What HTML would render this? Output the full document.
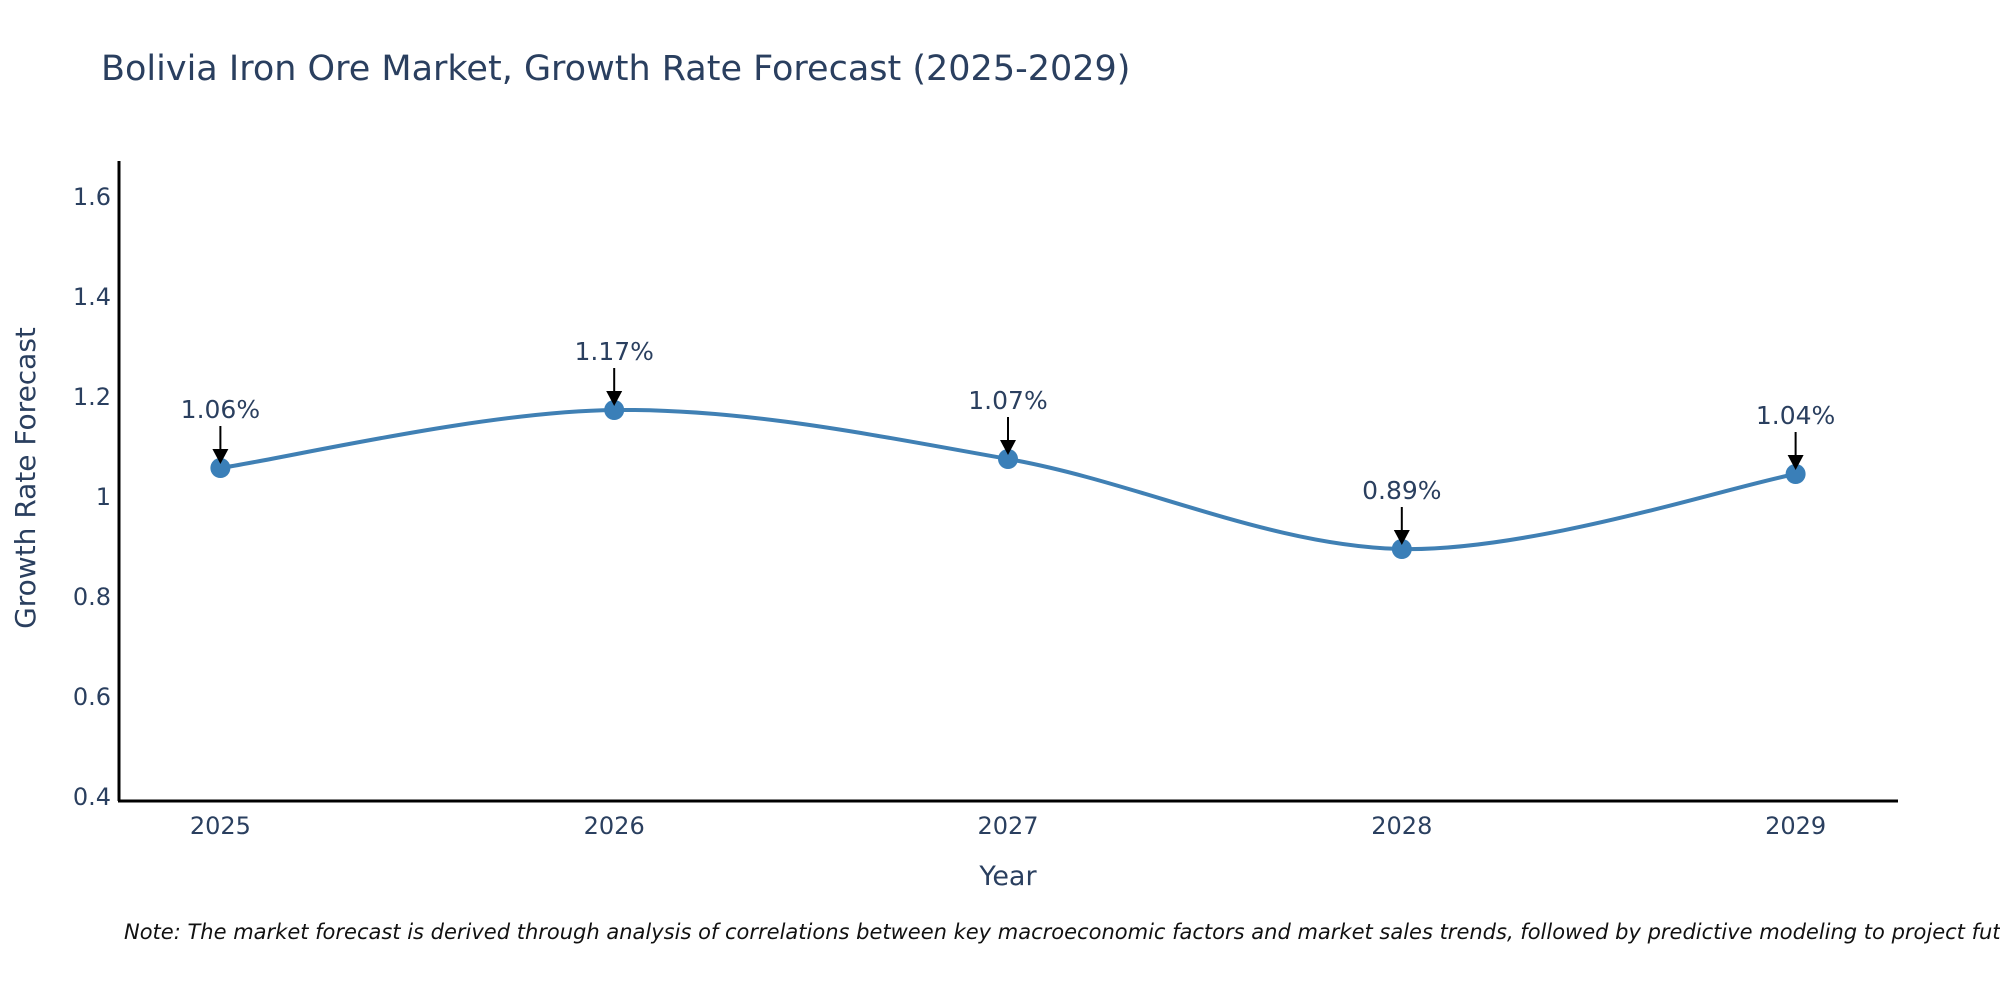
<!DOCTYPE html>
<html><head><meta charset="utf-8"><style>
html,body{margin:0;padding:0;background:#fff;}
svg{display:block;font-family:"DejaVu Sans","Liberation Sans",sans-serif;}
</style></head><body>
<svg id="chart" width="2000" height="1000">
<text x="101" y="80" font-size="35" fill="#2a3f5f">Bolivia Iron Ore Market, Growth Rate Forecast (2025-2029)</text>
<g id="yticks"></g>
<g id="xticks"></g>
<line x1="119" y1="161" x2="119" y2="801" stroke="#000" stroke-width="3"/>
<line x1="118" y1="801" x2="1898" y2="801" stroke="#000" stroke-width="3"/>
<path id="line" fill="none" stroke="#4080b4" stroke-width="4"/>
<g id="points"></g>
<g id="annots"></g>
<text x="1008" y="885" font-size="27" fill="#2a3f5f" text-anchor="middle">Year</text>
<text x="0" y="0" font-size="28" fill="#2a3f5f" text-anchor="middle" transform="translate(35,478) rotate(-90)">Growth Rate Forecast</text>
<text x="124" y="939" font-size="21" font-style="italic" fill="#111">Note: The market forecast is derived through analysis of correlations between key macroeconomic factors and market sales trends, followed by predictive modeling to project future sales.</text>
</svg>
<script>
const years = [2025, 2026, 2027, 2028, 2029];
const values = [1.058, 1.174, 1.076, 0.896, 1.046];
const labels = ["1.06%", "1.17%", "1.07%", "0.89%", "1.04%"];
const yTickVals = [0.4, 0.6, 0.8, 1, 1.2, 1.4, 1.6];
const yTickLabels = ["0.4", "0.6", "0.8", "1", "1.2", "1.4", "1.6"];

const NS = "http://www.w3.org/2000/svg";
const xMin = 2024.74, xMax = 2029.26, pxL = 118, pxR = 1898;
const yMin = 0.392, yMax = 1.672, pyB = 801, pyT = 161;
function X(v){ return pxL + (v - xMin) / (xMax - xMin) * (pxR - pxL); }
function Y(v){ return pyB - (v - yMin) / (yMax - yMin) * (pyB - pyT); }
function mk(tag, attrs){ const e = document.createElementNS(NS, tag); for (const k in attrs) e.setAttribute(k, attrs[k]); return e; }

const yt = document.getElementById('yticks');
yTickVals.forEach((v, i) => {
  const t = mk('text', {x: 111, y: Y(v) + 8, 'font-size': 24, fill: '#2a3f5f', 'text-anchor': 'end'});
  
  
  t.textContent = yTickLabels[i];
  yt.appendChild(t);
});
const xt = document.getElementById('xticks');
years.forEach(y => {
  const t = mk('text', {x: X(y), y: 834, 'font-size': 24, fill: '#2a3f5f', 'text-anchor': 'middle'});
  
  
  t.textContent = String(y);
  xt.appendChild(t);
});

const pts = years.map((y, i) => [X(y), Y(values[i])]);
let d = 'M' + pts[0][0] + ',' + pts[0][1];
for (let i = 0; i < pts.length - 1; i++) {
  const p0 = pts[Math.max(0, i - 1)], p1 = pts[i], p2 = pts[i + 1], p3 = pts[Math.min(pts.length - 1, i + 2)];
  const c1 = [p1[0] + (p2[0] - p0[0]) / 6, p1[1] + (p2[1] - p0[1]) / 6];
  const c2 = [p2[0] - (p3[0] - p1[0]) / 6, p2[1] - (p3[1] - p1[1]) / 6];
  d += ' C' + c1 + ' ' + c2 + ' ' + p2;
}
document.getElementById('line').setAttribute('d', d);

const pg = document.getElementById('points');
const ag = document.getElementById('annots');
pts.forEach((p, i) => {
  const c = mk('circle', {cx: p[0], cy: p[1], r: 10, fill: '#3a7fb8'});
  
  
  pg.appendChild(c);
  const ln = mk('line', {x1: p[0], y1: p[1] - 42, x2: p[0], y2: p[1] - 14, stroke: '#000', 'stroke-width': 2});
  
  
  ag.appendChild(ln);
  const hd = mk('polygon', {points: (p[0]-8)+','+(p[1]-19)+' '+(p[0]+8)+','+(p[1]-19)+' '+p[0]+','+(p[1]-4), fill: '#000'});
  
  
  ag.appendChild(hd);
  const t = mk('text', {x: p[0], y: p[1] - 50, 'font-size': 25, fill: '#2a3f5f', 'text-anchor': 'middle'});
  
  
  t.textContent = labels[i];
  ag.appendChild(t);
});
</script>
</body></html>
